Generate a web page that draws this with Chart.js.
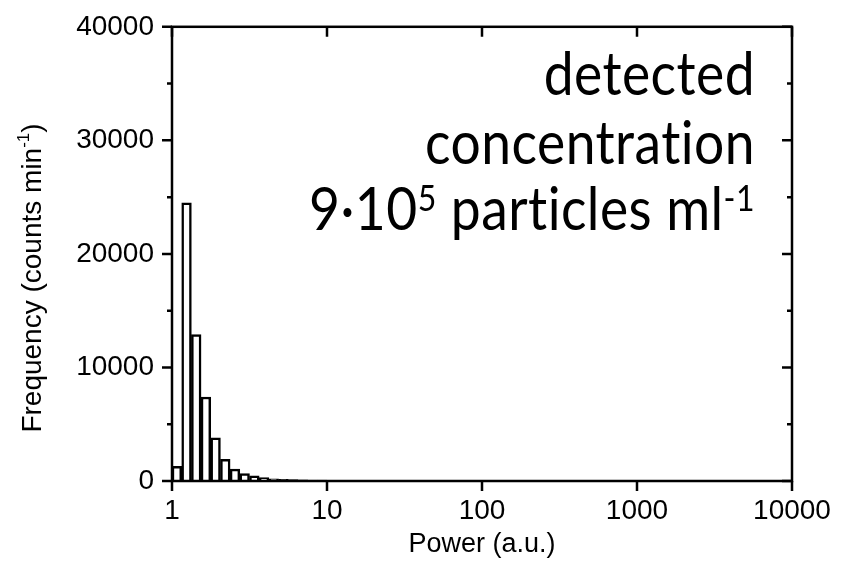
<!DOCTYPE html>
<html>
<head>
<meta charset="utf-8">
<script src="https://cdn.jsdelivr.net/npm/chart.js@4"></script>
<style>
  html, body { margin: 0; padding: 0; background: #fff; }
  #wrap { width: 846px; height: 563px; }
</style>
</head>
<body>
<div id="wrap"><canvas id="hist-chart" width="846" height="563"></canvas></div>
<script>
// histogram bins (log spaced, 16 per decade) - lower / upper edges in a.u.
var binLow  = [1, 1.155, 1.334, 1.540, 1.778, 2.054, 2.371, 2.738, 3.162, 3.652, 4.217, 4.870, 5.623, 6.494,
               7.499, 8.660, 10, 11.55, 13.34, 15.40, 17.78, 20.54, 23.71, 27.38, 31.62, 36.52];
var binHigh = [1.155, 1.334, 1.540, 1.778, 2.054, 2.371, 2.738, 3.162, 3.652, 4.217, 4.870, 5.623, 6.494, 7.499,
               8.660, 10, 11.55, 13.34, 15.40, 17.78, 20.54, 23.71, 27.38, 31.62, 36.52, 42.17];
var counts  = [1300, 24500, 12900, 7400, 3800, 1900, 1050, 650, 450, 300, 200, 150, 120, 100,
               90, 80, 70, 60, 40, 60, 50, 50, 30, 30, 40, 30];

var xTicks = [1, 10, 100, 1000, 10000];
var yTicks = [0, 10000, 20000, 30000, 40000];
var yMinor = [5000, 15000, 25000, 35000];

var axisFont = "'Liberation Sans', Arial, sans-serif";
var noteFont = "Lato, 'Open Sans', sans-serif";

var points = binLow.map(function (lo, i) {
  return { x: Math.sqrt(lo * binHigh[i]), y: counts[i] };
});

// draw a run of [text, size, dy] pieces starting at x
function drawRun(ctx, parts, family, x, y) {
  parts.forEach(function (p) {
    ctx.font = p[1] + 'px ' + family;
    ctx.fillText(p[0], x, y + p[2]);
    x += ctx.measureText(p[0]).width;
  });
  return x;
}
function runWidth(ctx, parts, family) {
  return parts.reduce(function (s, p) {
    ctx.font = p[1] + 'px ' + family;
    return s + ctx.measureText(p[0]).width;
  }, 0);
}

// frame, ticks, y title and the text note
var framePlugin = {
  id: 'frame',
  afterDraw: function (chart) {
    var ctx = chart.ctx, a = chart.chartArea;
    var xs = chart.scales.x, ys = chart.scales.y;
    ctx.save();
    ctx.strokeStyle = '#000';
    ctx.lineWidth = 2.5;
    ctx.strokeRect(a.left, a.top, a.right - a.left, a.bottom - a.top);
    ctx.beginPath();
    xTicks.forEach(function (v) {
      var px = xs.getPixelForValue(v);
      ctx.moveTo(px, a.bottom); ctx.lineTo(px, a.bottom + 10);
      ctx.moveTo(px, a.top); ctx.lineTo(px, a.top + 10);
    });
    yTicks.forEach(function (v) {
      var py = ys.getPixelForValue(v);
      ctx.moveTo(a.left - 10, py); ctx.lineTo(a.left, py);
      ctx.moveTo(a.right - 10, py); ctx.lineTo(a.right, py);
    });
    yMinor.forEach(function (v) {
      var py = ys.getPixelForValue(v);
      ctx.moveTo(a.left - 5, py); ctx.lineTo(a.left, py);
      ctx.moveTo(a.right - 5, py); ctx.lineTo(a.right, py);
    });
    ctx.stroke();
    ctx.restore();

    // y axis title, rotated
    ctx.save();
    ctx.fillStyle = '#000';
    ctx.textAlign = 'left';
    ctx.textBaseline = 'alphabetic';
    var tParts = [['Frequency (counts min', 28, 0], ['-1', 17, -12], [')', 28, 0]];
    var tw = runWidth(ctx, tParts, axisFont);
    ctx.translate(41, 278);
    ctx.rotate(-Math.PI / 2);
    drawRun(ctx, tParts, axisFont, -tw / 2, 0);
    ctx.restore();

    // note, right aligned, slightly condensed
    ctx.save();
    var size = 60;
    ctx.translate(755, 0);
    ctx.scale(0.89, 1);
    ctx.fillStyle = '#000';
    ctx.textBaseline = 'alphabetic';
    ctx.letterSpacing = '0.5px';
    ctx.textAlign = 'right';
    ctx.font = size + 'px ' + noteFont;
    ctx.fillText('detected', 0, 95);
    ctx.fillText('concentration', 0, 164);
    ctx.textAlign = 'left';
    var nParts = [['9·10', size, 0], ['5', 36, -19], [' particles ml', size, 0], ['-1', 36, -19]];
    drawRun(ctx, nParts, noteFont, -runWidth(ctx, nParts, noteFont), 230);
    ctx.restore();
  }
};

new Chart(document.getElementById('hist-chart'), {
  type: 'bar',
  data: {
    datasets: [{
      label: 'Frequency',
      data: points,
      backgroundColor: '#ffffff',
      borderColor: '#000000',
      borderWidth: 2.5,
      barPercentage: 1,
      categoryPercentage: 1
    }]
  },
  options: {
    responsive: false,
    animation: false,
    layout: { padding: { top: 22, right: 54, left: 0, bottom: 0 } },
    plugins: { legend: { display: false }, tooltip: { enabled: false } },
    scales: {
      x: {
        type: 'logarithmic',
        min: 1,
        max: 10000,
        afterBuildTicks: function (scale) {
          scale.ticks = xTicks.map(function (v) { return { value: v }; });
        },
        afterFit: function (scale) { scale.height = 82; },
        grid: { display: false },
        border: { display: false },
        ticks: {
          autoSkip: false,
          maxRotation: 0,
          padding: 5,
          color: '#000',
          font: { family: axisFont, size: 28 },
          callback: function (v) { return String(v); }
        },
        title: {
          display: true,
          text: 'Power (a.u.)',
          color: '#000',
          font: { family: axisFont, size: 27 },
          padding: { top: 0, bottom: 2 }
        }
      },
      y: {
        min: 0,
        max: 40000,
        afterBuildTicks: function (scale) {
          scale.ticks = yTicks.map(function (v) { return { value: v }; });
        },
        afterFit: function (scale) { scale.width = 172; },
        grid: { display: false },
        border: { display: false },
        ticks: {
          padding: 10,
          color: '#000',
          font: { family: axisFont, size: 28 },
          callback: function (v) { return String(v); }
        },
        title: { display: false }
      }
    }
  },
  plugins: [framePlugin]
});
</script>
</body>
</html>
